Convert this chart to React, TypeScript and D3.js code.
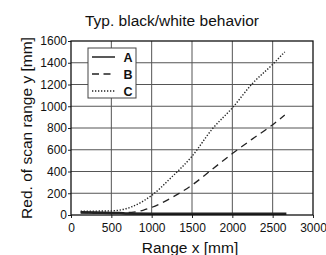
import React, { useRef, useEffect } from 'react';
import * as d3 from 'd3';

// values
const xTicks = [0, 500, 1000, 1500, 2000, 2500, 3000];
const yTicks = [0, 200, 400, 600, 800, 1000, 1200, 1400, 1600];

const seriesA_x = [120, 300, 600, 700, 1000, 1500, 2000, 2500, 2670];
const seriesA_y = [24, 22, 18, 14, 12, 12, 12, 12, 12];

const seriesB_x = [120, 500, 750, 900, 1000, 1250, 1500, 1750, 2000, 2250, 2500, 2650];
const seriesB_y = [22, 20, 25, 45, 70, 160, 275, 420, 565, 700, 830, 920];

const seriesC_x = [120, 500, 750, 1000, 1250, 1500, 1750, 2000, 2250, 2500, 2650];
const seriesC_y = [35, 38, 75, 180, 350, 540, 790, 985, 1210, 1385, 1500];

const legendLabels = ['A', 'B', 'C'];

const W = 326;
const H = 255;
const FONT = 'Liberation Sans, Arial, sans-serif';

const App = () => {
    const ref = useRef<SVGSVGElement>(null);

    useEffect(() => {
        const svg = d3.select(ref.current);
        svg.selectAll('*').remove();

        const margin = { top: 41, right: 13, bottom: 40, left: 71 };
        const width = W - margin.left - margin.right;
        const height = H - margin.top - margin.bottom;

        const x = d3.scaleLinear().domain([0, 3000]).range([0, width]);
        const y = d3.scaleLinear().domain([0, 1600]).range([height, 0]);

        svg.append('rect').attr('width', W).attr('height', H).attr('fill', '#fff');

        // title
        svg.append('text')
            .attr('x', 172).attr('y', 25.5)
            .attr('text-anchor', 'middle')
            .style('font-family', FONT).style('font-size', '15.5px')
            .attr('fill', '#111')
            .text('Typ. black/white behavior');

        const g = svg.append('g').attr('transform', `translate(${margin.left},${margin.top})`);

        // --- grid ---
        g.append('g')
            .selectAll('line')
            .data(xTicks.slice(1, -1))
            .enter().append('line')
            .attr('x1', d => x(d)).attr('x2', d => x(d))
            .attr('y1', 0).attr('y2', height)
            .attr('stroke', '#555').attr('stroke-width', 1);
        g.append('g')
            .selectAll('line')
            .data(yTicks.slice(1, -1))
            .enter().append('line')
            .attr('x1', 0).attr('x2', width)
            .attr('y1', d => y(d)).attr('y2', d => y(d))
            .attr('stroke', '#555').attr('stroke-width', 1);

        // --- axes ---
        const xAxis = g.append('g')
            .attr('transform', `translate(0,${height})`)
            .call(d3.axisBottom(x).tickValues(xTicks).tickSize(3).tickPadding(5).tickFormat(d3.format('d')));
        xAxis.select('.domain').remove();
        xAxis.selectAll('text').style('font-family', FONT).style('font-size', '12px').attr('fill', '#111');
        xAxis.selectAll('line').attr('stroke', '#222');

        const yAxis = g.append('g')
            .call(d3.axisLeft(y).tickValues(yTicks).tickSize(3).tickPadding(1).tickFormat(d3.format('d')));
        yAxis.select('.domain').remove();
        yAxis.selectAll('text').style('font-family', FONT).style('font-size', '12px').attr('fill', '#111');
        yAxis.selectAll('line').attr('stroke', '#222');

        // --- series ---
        const line = d3.line<[number, number]>()
            .x(d => x(d[0]))
            .y(d => y(d[1]))
            .curve(d3.curveMonotoneX);

        const series = [
            { xs: seriesA_x, ys: seriesA_y, dash: null, w: 2.6 },
            { xs: seriesB_x, ys: seriesB_y, dash: '7,5', w: 1.3 },
            { xs: seriesC_x, ys: seriesC_y, dash: '1.3,1.7', w: 1.4 },
        ];

        series.forEach(s => {
            const pts = s.xs.map((v, i) => [v, s.ys[i]] as [number, number]);
            const p = g.append('path')
                .datum(pts)
                .attr('fill', 'none')
                .attr('stroke', '#222')
                .attr('stroke-width', s.w)
                .attr('d', line);
            if (s.dash) p.attr('stroke-dasharray', s.dash);
        });

        // plot frame
        g.append('rect')
            .attr('width', width).attr('height', height)
            .attr('fill', 'none').attr('stroke', '#111').attr('stroke-width', 1.3);

        // --- legend ---
        const lg = svg.append('g').attr('transform', 'translate(88,48)');
        lg.append('rect')
            .attr('width', 48).attr('height', 50)
            .attr('fill', '#fff').attr('stroke', '#444').attr('stroke-width', 1);
        legendLabels.forEach((lab, i) => {
            const yy = 9 + i * 17;
            const s = series[i];
            const l = lg.append('line')
                .attr('x1', 4).attr('x2', 27)
                .attr('y1', yy).attr('y2', yy)
                .attr('stroke', '#222')
                .attr('stroke-width', i === 0 ? 1.5 : s.w);
            if (s.dash) l.attr('stroke-dasharray', i === 1 ? '7,4.5' : s.dash);
            lg.append('text')
                .attr('x', 40).attr('y', yy + 4.5)
                .attr('text-anchor', 'middle')
                .style('font-family', FONT).style('font-size', '12.5px').style('font-weight', 'bold')
                .attr('fill', '#111')
                .text(lab);
        });

        // axis titles
        svg.append('text')
            .attr('x', 190).attr('y', 253)
            .attr('text-anchor', 'middle')
            .style('font-family', FONT).style('font-size', '15.5px')
            .attr('fill', '#111')
            .text('Range x [mm]');

        svg.append('text')
            .attr('transform', 'translate(32,128) rotate(-90)')
            .attr('text-anchor', 'middle')
            .style('font-family', FONT).style('font-size', '15.5px')
            .attr('fill', '#111')
            .text('Red. of scan range y [mm]');
    }, []);

    return (
        <svg ref={ref} width={W} height={H}
            style={{ position: 'absolute', left: 0, top: 0, display: 'block' }} />
    );
};

export default App;
